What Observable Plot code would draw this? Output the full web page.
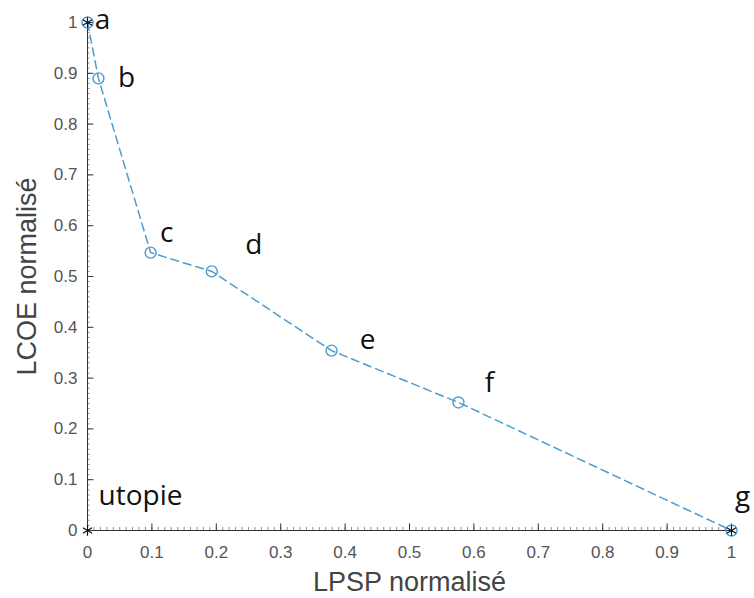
<!DOCTYPE html>
<html><head><meta charset="utf-8">
<script src="https://cdn.jsdelivr.net/npm/d3@7"></script>
<script src="https://cdn.jsdelivr.net/npm/@observablehq/plot@0.6"></script>
<style>body{margin:0;background:#fff;}</style>
</head><body><div id="chart"></div>
<script>
const labels = ["a","b","c","d","e","f","g"];
const lpsp = [0, 0.017, 0.098, 0.193, 0.379, 0.576, 1];
const lcoe = [1, 0.89, 0.547, 0.51, 0.354, 0.252, 0];
const ticks = [0,0.1,0.2,0.3,0.4,0.5,0.6,0.7,0.8,0.9,1];
const tickLabels = ["0","0.1","0.2","0.3","0.4","0.5","0.6","0.7","0.8","0.9","1"];
const extremeIdx = [0, 6];
const utopia = [{x:0, y:0, label:"utopie"}];

const pts = labels.map((l,i)=>({label:l, x:lpsp[i], y:lcoe[i]}));
const minor = d3.range(0, 101).map(i=>i/100);
const labelOffsets = {a:[15,-2],b:[28,0],c:[16,-20],d:[42,-26],e:[36,-11],f:[31,-19],g:[11,-33]};
const blue = "#4c9cce";
const labelFont = "'Open Sans', sans-serif";

const labelMarks = pts.map(p => Plot.text([p], {x:"x", y:"y", text:"label",
  dx:labelOffsets[p.label][0], dy:labelOffsets[p.label][1],
  fill:"#111", fontSize:28, fontFamily:labelFont}));

const plot = Plot.plot({
  width: 754, height: 598,
  marginLeft: 87, marginRight: 23, marginTop: 22, marginBottom: 68,
  x: {type:"linear", domain:[0,1], axis:null},
  y: {type:"linear", domain:[0,1], axis:null},
  style: {fontFamily:"'Liberation Sans', Arial, sans-serif"},
  marks: [
    Plot.ruleX([0], {stroke:"#333", strokeWidth:1}),
    Plot.ruleY([0], {stroke:"#333", strokeWidth:1}),
    Plot.ruleX(minor, {x:d=>d, y1:0, y2:0.006, stroke:"#444", strokeWidth:0.6}),
    Plot.ruleY(minor, {y:d=>d, x1:0, x2:0.004, stroke:"#444", strokeWidth:0.6}),
    Plot.ruleX(ticks, {x:d=>d, y1:0, y2:0.013, stroke:"#333", strokeWidth:1}),
    Plot.ruleY(ticks, {y:d=>d, x1:0, x2:0.01, stroke:"#333", strokeWidth:1}),
    Plot.text(ticks, {x:d=>d, y:0, text:(d,i)=>tickLabels[i], dy:22, fill:"#555", fontSize:17}),
    Plot.text(ticks, {x:0, y:d=>d, text:(d,i)=>tickLabels[i], dx:-10, textAnchor:"end", fill:"#555", fontSize:17}),
    Plot.line(pts, {x:"x", y:"y", stroke:blue, strokeWidth:1.5, strokeDasharray:"8,5"}),
    Plot.dot(pts, {x:"x", y:"y", r:5.5, stroke:blue, strokeWidth:1.4, fill:"none"}),
    Plot.dot(extremeIdx.map(i=>pts[i]), {x:"x", y:"y", symbol:"asterisk", r:5, stroke:"#111", strokeWidth:1.2}),
    Plot.dot(utopia, {x:"x", y:"y", symbol:"asterisk", r:5, stroke:"#111", strokeWidth:1.2}),
    ...labelMarks,
    Plot.text(utopia, {x:"x", y:"y", text:"label", dx:11, dy:-34, textAnchor:"start", fill:"#111", fontSize:28, fontFamily:labelFont}),
    Plot.text(["LPSP normalisé"], {x:0.5, y:0, text:d=>d, dy:52, fill:"#444", fontSize:27}),
    Plot.text(["LCOE normalisé"], {x:0, y:0.5, text:d=>d, dx:-60, rotate:-90, fill:"#444", fontSize:27})
  ]
});
document.getElementById("chart").appendChild(plot);
</script>
</body></html>
